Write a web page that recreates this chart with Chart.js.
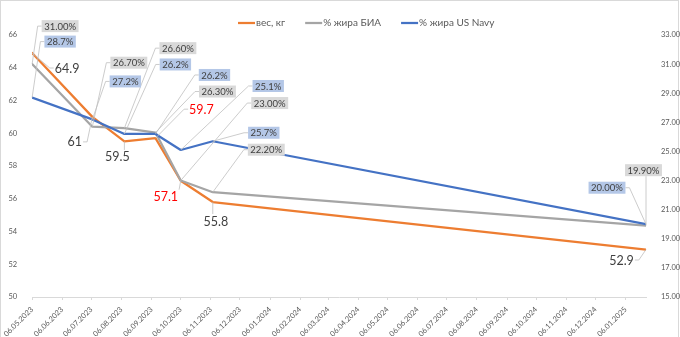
<!DOCTYPE html>
<html>
<head>
<meta charset="utf-8">
<script src="https://cdn.jsdelivr.net/npm/chart.js@4.4.1/dist/chart.umd.min.js"></script>
<style>
  html, body { margin: 0; padding: 0; background: #ffffff; }
</style>
</head>
<body>
<canvas id="grafico" width="680" height="337"></canvas>
<script>
// measurement dates
const dates = ["06.05.2023", "07.07.2023", "09.08.2023", "10.09.2023", "06.10.2023", "08.11.2023", "27.01.2025"];

const weightKg = [64.9, 61, 59.5, 59.7, 57.1, 55.8, 52.9];

const fatBia = [31.0, 26.7, 26.6, 26.3, 23.0, 22.2, 19.9];

const fatNavy = [28.7, 27.2, 26.2, 26.2, 25.1, 25.7, 20.0];

const navyDecimals = [1, 1, 1, 1, 1, 1, 2];

const seriesNames = ["вес, кг", "% жира БИА", "% жира US Navy"];

const tickDates = [
  "06.05.2023", "06.06.2023", "06.07.2023", "06.08.2023", "06.09.2023", "06.10.2023",
  "06.11.2023", "06.12.2023", "06.01.2024", "06.02.2024", "06.03.2024", "06.04.2024",
  "06.05.2024", "06.06.2024", "06.07.2024", "06.08.2024", "06.09.2024", "06.10.2024",
  "06.11.2024", "06.12.2024", "06.01.2025",
];

/*
  =========================
     LABEL PLACEMENT
  =========================
  offsets of each label centre from its point, px
*/

const weightLabelOffsets = [[35, 15], [-17.5, 25], [-7, 15.5], [46, -29], [-15, 16], [3, 19], [-24.5, 10.5]];
const weightLabelColors = ["#404040", "#404040", "#404040", "#ff0000", "#ff0000", "#404040", "#404040"];
const biaLabelOffsets = [[28, -38], [36.5, -64], [53.5, -80], [62, -41], [89, -77.5], [53.5, -42.5], [-2.5, -55.5]];
const navyLabelOffsets = [[28, -56], [33, -38], [51, -69.5], [59, -59], [87.5, -64], [51, -8.5], [-39, -36.5]];

function toDay(s) {
  const [d, m, y] = s.split(".").map(Number);
  const [d0, m0, y0] = dates[0].split(".").map(Number);
  return (Date.UTC(y, m - 1, d) - Date.UTC(y0, m0 - 1, d0)) / 86400000;
}

const days = dates.map(toDay);

const points = (values) => values.map((v, i) => ({ x: days[i], y: v }));

const colors = ["#ed7d31", "#a5a5a5", "#4472c4"];

const labelsPlugin = {
  id: "dataLabels",

  beforeDraw(chart) {
    const ctx = chart.ctx;
    ctx.save();
    ctx.fillStyle = "#ffffff";
    ctx.fillRect(0, 0, chart.width, chart.height);
    ctx.strokeStyle = "#d9d9d9";
    ctx.lineWidth = 1;
    ctx.strokeRect(0.5, 0.5, chart.width - 2, chart.height + 4);
    ctx.restore();
  },

  afterDatasetsDraw(chart) {
    const ctx = chart.ctx;
    const boxes = [];

    chart.data.datasets.forEach((ds, i) => {
      const cfg = ds.pointLabels;
      if (!cfg) return;
      const meta = chart.getDatasetMeta(i);

      meta.data.forEach((pt, j) => {
        ctx.font = cfg.font;
        const text = cfg.format(ds.data[j].y, j);
        const w = ctx.measureText(text).width + cfg.padX * 2;
        const h = cfg.height;
        const cx = pt.x + cfg.offsets[j][0];
        const cy = pt.y + cfg.offsets[j][1];
        boxes.push({
          text, pt, cx, cy, w, h,
          l: cx - w / 2, r: cx + w / 2, t: cy - h / 2, b: cy + h / 2,
          font: cfg.font,
          fill: cfg.fill,
          color: Array.isArray(cfg.color) ? cfg.color[j] : cfg.color,
        });
      });
    });

    // leader lines
    ctx.save();
    ctx.strokeStyle = "#bfbfbf";
    ctx.lineWidth = 0.8;
    boxes.forEach((b) => {
      const p = b.pt;
      let path;
      if (p.x < b.l - 2) {
        path = [[b.l, b.cy], [b.l - 4, b.cy]];
      } else if (p.x > b.r + 2) {
        path = [[b.r, b.cy], [b.r + 4, b.cy]];
      } else {
        const x = Math.min(Math.max(p.x, b.l), b.r);
        path = [[x, p.y < b.t ? b.t : b.b]];
      }
      const last = path[path.length - 1];
      if (Math.hypot(p.x - last[0], p.y - last[1]) < 5) return;
      ctx.beginPath();
      ctx.moveTo(path[0][0], path[0][1]);
      path.slice(1).forEach((q) => ctx.lineTo(q[0], q[1]));
      ctx.lineTo(p.x, p.y);
      ctx.stroke();
    });

    // label boxes and text
    boxes.forEach((b) => {
      if (b.fill) {
        ctx.fillStyle = b.fill;
        ctx.fillRect(b.l, b.t, b.w, b.h);
      }
      ctx.font = b.font;
      ctx.fillStyle = b.color;
      ctx.textAlign = "center";
      ctx.textBaseline = "middle";
      ctx.fillText(b.text, b.cx, b.cy + 0.5);
    });
    ctx.restore();
  },

  afterDraw(chart) {
    // legend row
    const ctx = chart.ctx;
    ctx.save();
    ctx.font = "10px Lato";
    ctx.textBaseline = "middle";
    ctx.textAlign = "left";
    let x = 238;
    const y = 23;
    seriesNames.forEach((name, i) => {
      ctx.strokeStyle = colors[i];
      ctx.lineWidth = 2.25;
      ctx.beginPath();
      ctx.moveTo(x, y);
      ctx.lineTo(x + 17, y);
      ctx.stroke();
      ctx.fillStyle = "#595959";
      ctx.fillText(name, x + 18, y);
      x += 18 + ctx.measureText(name).width + 20;
    });
    ctx.restore();
  },
};

Chart.defaults.font.family = "Lato";

const tickFont = { size: 7.5 };

const grafico = new Chart(document.getElementById("grafico"), {
  type: "line",

  data: {
    datasets: [
      {
        label: seriesNames[0],
        data: points(weightKg),
        yAxisID: "y",
        borderColor: colors[0],
        order: 3,
        pointLabels: {
          format: (v) => String(v),
          font: "12.5px Lato",
          color: weightLabelColors,
          fill: null,
          padX: 1,
          height: 14,
          offsets: weightLabelOffsets,
        },
      },
      {
        label: seriesNames[1],
        data: points(fatBia),
        yAxisID: "y1",
        borderColor: colors[1],
        order: 2,
        pointLabels: {
          format: (v) => v.toFixed(2) + "%",
          font: "9.5px Lato",
          color: "#404040",
          fill: "#d9d9d9",
          padX: 2.5,
          height: 12,
          offsets: biaLabelOffsets,
        },
      },
      {
        label: seriesNames[2],
        data: points(fatNavy),
        yAxisID: "y1",
        borderColor: colors[2],
        order: 1,
        pointLabels: {
          format: (v, j) => v.toFixed(navyDecimals[j]) + "%",
          font: "9.5px Lato",
          color: "#404040",
          fill: "#b4c7e7",
          padX: 2.5,
          height: 12,
          offsets: navyLabelOffsets,
        },
      },
    ],
  },

  options: {
    responsive: false,

    animation: false,

    layout: {
      padding: { top: 35, left: 0, right: 0, bottom: 0 },
    },

    elements: {
      line: {
        borderWidth: 2.25,
        tension: 0,
        borderJoinStyle: "round",
        borderCapStyle: "round",
        fill: false,
      },
      point: { radius: 0, hoverRadius: 0 },
    },

    plugins: {
      legend: { display: false },
      tooltip: { enabled: false },
    },

    scales: {
      x: {
        type: "linear",
        min: 0,
        max: days[days.length - 1],
        afterBuildTicks: (axis) => {
          axis.ticks = tickDates.map((s) => ({ value: toDay(s) }));
        },
        afterFit: (axis) => {
          axis.height = 40;
        },
        ticks: {
          autoSkip: false,
          minRotation: 45,
          maxRotation: 45,
          padding: 5,
          color: "#595959",
          font: tickFont,
          callback: (v, i) => tickDates[i],
        },
        grid: {
          display: true,
          drawOnChartArea: false,
          drawTicks: true,
          tickLength: 3,
          color: "#d9d9d9",
        },
        border: { display: true, color: "#d9d9d9" },
      },

      y: {
        position: "left",
        min: 50,
        max: 66,
        afterFit: (axis) => {
          axis.width = 29;
        },
        ticks: {
          stepSize: 2,
          padding: 7,
          color: "#595959",
          font: tickFont,
        },
        grid: { display: false },
        border: { display: false },
      },

      y1: {
        position: "right",
        min: 15,
        max: 33,
        afterFit: (axis) => {
          axis.width = 34;
        },
        ticks: {
          stepSize: 2,
          padding: 7,
          color: "#595959",
          font: tickFont,
          callback: (v) => v.toFixed(2) + "%",
        },
        grid: { display: false },
        border: { display: false },
      },
    },
  },

  plugins: [labelsPlugin],
});
</script>
</body>
</html>
